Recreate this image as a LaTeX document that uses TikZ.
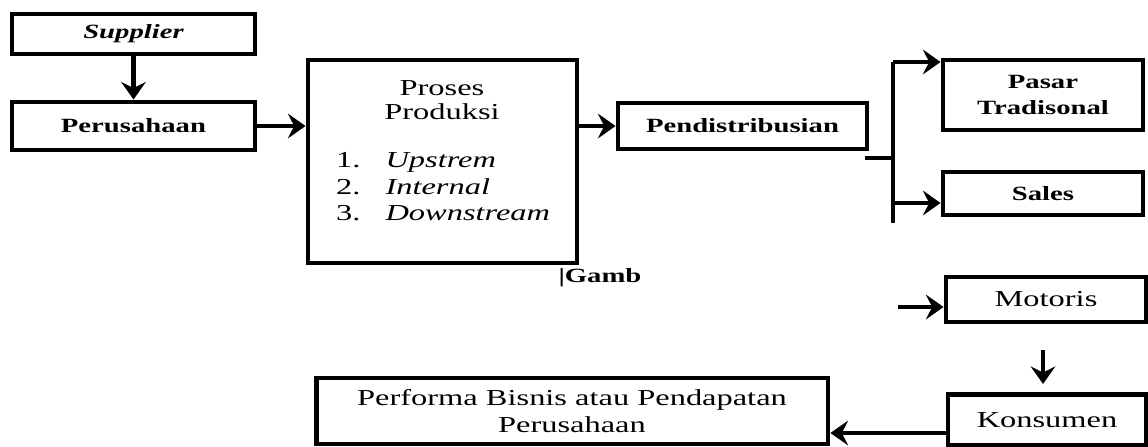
\documentclass[tikz,border=0pt]{standalone}
\usepackage{fontspec}
\setmainfont[FakeStretch=1.42]{Liberation Serif}
\usetikzlibrary{arrows.meta, positioning, calc}

\begin{document}
\begin{tikzpicture}[
  x=0.02cm, y=-0.02cm,
  boldbox/.style={
    draw=black, line width=2.8pt, inner sep=2pt,
    align=center, font=\fontsize{11.5}{14.5}\selectfont\bfseries
  },
  plainbox/.style={
    draw=black, line width=2.8pt, inner sep=2pt,
    align=center, font=\fontsize{13}{15.4}\selectfont
  },
  plaintext/.style={align=center, font=\fontsize{13}{14}\selectfont},
  barr/.style={-{Stealth[length=10pt, width=14pt, inset=3.5pt]}, line width=2.6pt},
  bline/.style={line width=2.8pt},
]
\useasboundingbox (0,0) rectangle (1148,446);

% left column
\node[boldbox, minimum width=4.86cm, minimum height=0.8cm]  (supplier) at (133.5,34)
  {\itshape Supplier};
\node[boldbox, minimum width=4.86cm, minimum height=0.96cm] (perusahaan) at (133.5,126)
  {Perusahaan};
\draw[barr] (supplier.south) -- (perusahaan.north);

% production box
\node[plainbox, minimum width=5.38cm, minimum height=4.06cm] (proses) at (442.5,161.5) {};
\node[plaintext] (prosestitle) at (442,100) {Proses\\Produksi};
\node[plaintext, anchor=west, font=\fontsize{13}{15}\selectfont] (prosesitems) at (330,189)
  {\begin{tabular}{@{}l@{\hspace{0.5cm}}l@{}}
     1. & \itshape Upstrem\\
     2. & \itshape Internal\\
     3. & \itshape Downstream
   \end{tabular}};
\draw[barr] (perusahaan.east) -- (perusahaan.east -| proses.west);

\node[boldbox, minimum width=4.98cm, minimum height=0.92cm] (pendist) at (742.5,126)
  {Pendistribusian};
\draw[barr] (proses.east |- pendist.west) -- (pendist.west);

\node[boldbox, draw=none] (gamb) at (600,278) {\textbar Gamb};

% outlets
\node[boldbox, minimum width=4.0cm, minimum height=1.4cm]  (pasar) at (1043,95)
  {Pasar\\Tradisonal};
\node[boldbox, minimum width=4.0cm, minimum height=0.86cm] (sales) at (1043,193.5)
  {Sales};
\node[plainbox, minimum width=4.0cm, minimum height=0.9cm] (motoris) at (1046,299.5)
  {Motoris};
\node[plainbox, minimum width=3.96cm, minimum height=1.02cm] (konsumen) at (1047,420)
  {Konsumen};
\node[plainbox, minimum width=10.24cm, minimum height=1.32cm] (performa) at (572,411)
  {Performa Bisnis atau Pendapatan\\Perusahaan};

\coordinate (split)  at (865,158);
\coordinate (bartop) at (893,62);
\coordinate (barbot) at (893,223);
\coordinate (salesin) at (893,203);
\draw[bline] (split) -- (split -| bartop);
\draw[bline] (bartop) -- (barbot);
\draw[barr] (bartop) -- (bartop -| pasar.west);
\draw[barr] (salesin) -- (salesin -| sales.west);

\coordinate (motin) at (898,307);
\draw[barr] (motin) -- (motin -| motoris.west);
\coordinate (dtop) at (1043,350);
\coordinate (dbot) at (1043,384);
\draw[barr] (dtop) -- (dbot);
\coordinate (kout) at (948,433);
\draw[barr] (kout) -- (kout -| performa.east);
\end{tikzpicture}
\end{document}
